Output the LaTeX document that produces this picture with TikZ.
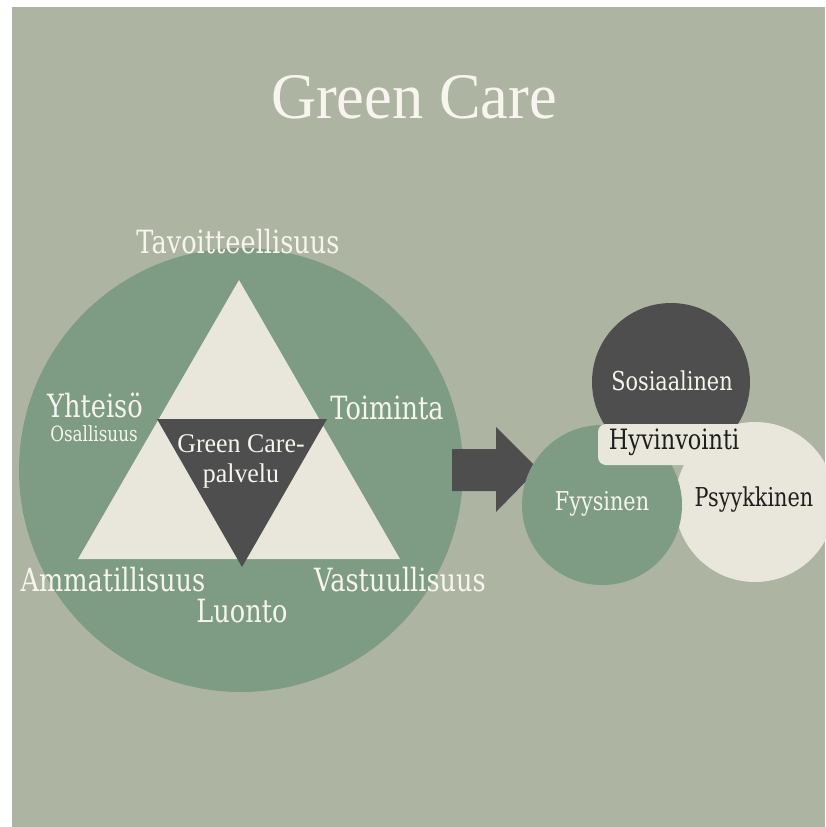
\documentclass[tikz,border=0pt]{standalone}
\usepackage{fontspec}
\setmainfont{DejaVu Serif}[FakeStretch=0.8]
\newfontfamily\titlefont{Liberation Serif}[FakeStretch=0.96]
\definecolor{bg}{HTML}{ADB5A2}
\definecolor{sage}{HTML}{7E9B84}
\definecolor{cream}{HTML}{E9E7DB}
\definecolor{charcoal}{HTML}{4E4E4E}
\definecolor{txtw}{HTML}{F7F5EE}
\definecolor{txtd}{HTML}{1E1E1E}
\begin{document}
\begin{tikzpicture}[x=1pt,y=-1pt,
  lbl/.style={inner sep=0pt, text=txtw, font=\fontsize{32pt}{34pt}\selectfont},
  small/.style={inner sep=0pt, text=txtw, font=\fontsize{21pt}{23pt}\selectfont},
  circlbl/.style={inner sep=0pt, font=\fontsize{26pt}{28pt}\selectfont},
  disc/.style={circle, inner sep=0pt, minimum size=#1}]
\useasboundingbox (0,0) rectangle (825,827);
\fill[white] (0,0) rectangle (825,827);
\fill[bg] (12,7) rectangle (825,827);

% title
\node[inner sep=0pt, text=txtw, font=\titlefont\fontsize{65pt}{67pt}\selectfont] (title) at (414,97) {Green Care};

% big circle and triangles
\node[disc=444pt, fill=sage] (big) at (241,470) {};
\fill[cream] (239,280) -- (78,559) -- (400,559) -- cycle;
\fill[charcoal] (157,419) -- (327,419) -- (242,567) -- cycle;

\node[lbl] (tav) at (238,242) {Tavoitteellisuus};
\node[lbl] (yht) at (95,405) {Yhteisö};
\node[small] (osa) at (94,434) {Osallisuus};
\node[lbl] (toi) at (387,408) {Toiminta};
\node[lbl] (amm) at (113,580) {Ammatillisuus};
\node[lbl] (vas) at (400,580) {Vastuullisuus};
\node[lbl] (luo) at (242,611) {Luonto};
\node[inner sep=0pt, text=txtw, align=center, font=\titlefont\fontsize{27pt}{30pt}\selectfont] (gcp) at (241,461) {Green Care-\\palvelu};

% arrow
\fill[charcoal] (452,449) -- (496,449) -- (496,427) -- (538,469) -- (496,512) -- (496,491) -- (452,491) -- cycle;

% wellbeing circles
\node[disc=158pt, fill=charcoal] (sos) at (671,382) {};
\node[disc=160pt, fill=cream] (psy) at (755,502) {};
\node[disc=160pt, fill=sage] (fyy) at (602,505) {};
\fill[cream, rounded corners=8pt] (598,424) rectangle (750,465);

\node[circlbl, text=txtw] (sost) at (672,381) {Sosiaalinen};
\node[circlbl, text=txtw] (fyyt) at (602,504) {Fyysinen};
\node[circlbl, text=txtd] (psyt) at (754,500) {Psyykkinen};
\node[inner sep=0pt, text=txtd, font=\fontsize{28pt}{30pt}\selectfont] (hyv) at (674,442) {Hyvinvointi};
\end{tikzpicture}
\end{document}
